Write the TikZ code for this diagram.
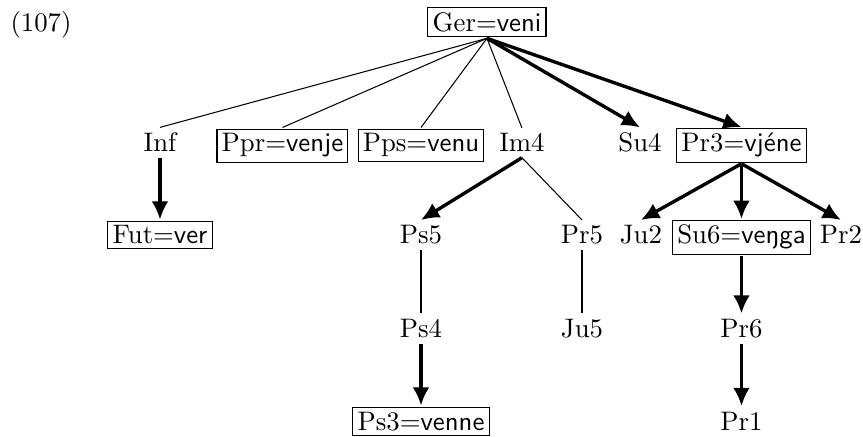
\documentclass[tikz,border=0pt]{standalone}
\usepackage{tikz}
\usetikzlibrary{arrows.meta}
\newcommand{\frm}[2]{#1=\textsf{#2}}
\tikzset{
  wd/.style   = {anchor=base, inner sep=2pt, font=\fontsize{10.3pt}{12pt}\selectfont},
  form/.style = {anchor=base, draw, line width=0.4pt, inner sep=1.8pt, outer sep=0.6pt,
                 font=\fontsize{10.3pt}{12pt}\selectfont},
  ln/.style   = {line width=0.4pt},
  ar/.style   = {-{Latex[length=7pt,width=6.5pt]}, line width=1.3pt},
}
\begin{document}
\begin{tikzpicture}
  \useasboundingbox (0,0) rectangle (11.668,-5.895);

  \node[anchor=base west, inner sep=0pt, font=\fontsize{10.3pt}{12pt}\selectfont] (num) at (0.135,-0.426) {(107)};

  % root
  \node[form] (ger) at (6.584,-0.426) {\frm{Ger}{veni}};

  % second row
  \node[wd]   (inf) at (2.163,-2.055) {Inf};
  \node[form] (ppr) at (3.819,-2.055) {\frm{Ppr}{venje}};
  \node[form] (pps) at (5.692,-2.055) {\frm{Pps}{venu}};
  \node[wd]   (im4) at (7.057,-2.055) {Im4};
  \node[wd]   (su4) at (8.653,-2.055) {Su4};
  \node[form] (pr3) at (10.025,-2.055) {\frm{Pr3}{vjéne}};

  % third row
  \node[form] (fut) at (2.163,-3.299) {\frm{Fut}{ver}};
  \node[wd]   (ps5) at (5.692,-3.299) {Ps5};
  \node[wd]   (pr5) at (7.869,-3.299) {Pr5};
  \node[wd]   (ju2) at (8.666,-3.299) {Ju2};
  \node[form] (su6) at (10.025,-3.299) {\frm{Su6}{veŋga}};
  \node[wd]   (pr2) at (11.370,-3.299) {Pr2};

  % fourth row
  \node[wd] (ps4) at (5.692,-4.563) {Ps4};
  \node[wd] (ju5) at (7.869,-4.563) {Ju5};
  \node[wd] (pr6) at (10.025,-4.563) {Pr6};

  % fifth row
  \node[form] (ps3) at (5.692,-5.814) {\frm{Ps3}{venne}};
  \node[wd]   (pr1) at (10.025,-5.814) {Pr1};

  % plain edges
  \draw[ln] (ger.south) -- (inf.north);
  \draw[ln] (ger.south) -- (ppr.north);
  \draw[ln] (ger.south) -- (pps.north);
  \draw[ln] (ger.south) -- (im4.north);
  \draw[ln] (im4.south) -- (pr5.north);
  \draw[ln] (ps5.south) -- (ps4.north);
  \draw[ln] (pr5.south) -- (ju5.north);

  % arrows
  \draw[ar] (ger.south) -- (su4.north);
  \draw[ar] (ger.south) -- (pr3.north);
  \draw[ar] (inf.south) -- (fut.north);
  \draw[ar] (im4.south) -- (ps5.north);
  \draw[ar] (ps4.south) -- (ps3.north);
  \draw[ar] (pr3.south) -- (ju2.north);
  \draw[ar] (pr3.south) -- (su6.north);
  \draw[ar] (pr3.south) -- (pr2.north);
  \draw[ar] (su6.south) -- (pr6.north);
  \draw[ar] (pr6.south) -- (pr1.north);
\end{tikzpicture}
\end{document}
